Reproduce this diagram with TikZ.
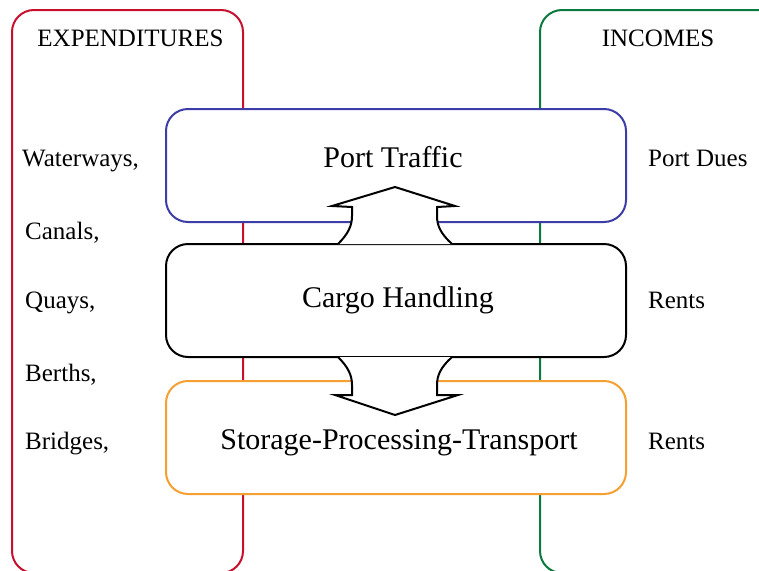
\documentclass[tikz,border=0pt]{standalone}
\usepackage{fontspec}
\setmainfont{Liberation Serif}
\definecolor{exred}{HTML}{C8102E}
\definecolor{ingreen}{HTML}{0B7A3E}
\definecolor{ptblue}{HTML}{3D3DA8}
\definecolor{storange}{HTML}{F5A030}
\tikzset{
  outerbox/.style={line width=2pt, rounded corners=22pt},
  innerbox/.style={line width=2pt, rounded corners=22pt, fill=white},
  blockarrow/.style={line width=2pt, draw=black, fill=white, line join=miter},
  bigtext/.style={anchor=base, inner sep=0pt, font=\fontsize{30}{36}\selectfont},
  sidetext/.style={anchor=base west, inner sep=0pt, font=\fontsize{25}{30}\selectfont},
  headtext/.style={anchor=base, inner sep=0pt, font=\fontsize{25}{30}\selectfont}
}
\begin{document}
\begin{tikzpicture}[x=1pt,y=-1pt]
\useasboundingbox (0,0) rectangle (759,570);
\begin{scope}
\clip (0,0) rectangle (759,570);
\draw[outerbox, draw=exred] (12,10) rectangle (243,573);
\draw[outerbox, draw=ingreen] (540,10) rectangle (782,573);
\end{scope}
% inner boxes
\draw[innerbox, draw=ptblue] (166,109) rectangle (626,222);
\draw[innerbox, draw=black] (166,244) rectangle (626,357);
\draw[innerbox, draw=storange] (166,381) rectangle (626,494);
% up arrow
\draw[blockarrow] (338,244) .. controls (348,234) and (352,226) .. (352,216)
  -- (352,207) -- (332,206) -- (395,187) -- (455,206) -- (437,207) -- (437,216)
  .. controls (437,226) and (441,234) .. (452,244);
% down arrow
\draw[blockarrow] (338,357) .. controls (348,367) and (352,375) .. (352,385)
  -- (352,395) -- (335,395) -- (395,415) -- (458,395) -- (437,395) -- (437,385)
  .. controls (437,375) and (441,367) .. (452,357);
% texts
\node[bigtext] (tpt) at (393,167) {Port Traffic};
\node[bigtext] (tch) at (398,307) {Cargo Handling};
\node[bigtext] (tsp) at (399,449) {Storage-Processing-Transport};
\node[headtext] (hex) at (130.5,46) {EXPENDITURES};
\node[headtext] (hin) at (658,46) {INCOMES};
\node[sidetext] (l1) at (22,166) {Waterways,};
\node[sidetext] (l2) at (25,239) {Canals,};
\node[sidetext] (l3) at (25,308) {Quays,};
\node[sidetext] (l4) at (25,381) {Berths,};
\node[sidetext] (l5) at (25,449) {Bridges,};
\node[sidetext] (r1) at (648,166) {Port Dues};
\node[sidetext] (r2) at (648,308) {Rents};
\node[sidetext] (r3) at (648,449) {Rents};
\end{tikzpicture}
\end{document}
